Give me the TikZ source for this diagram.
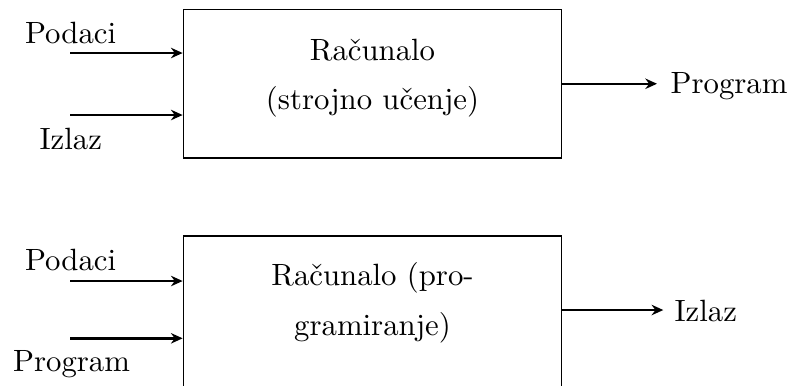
\documentclass[tikz,border=0pt]{standalone}
\usepackage{fontspec}
\usetikzlibrary{arrows.meta}
\begin{document}
\begin{tikzpicture}[x=0.325pt,y=-0.325pt,
  box/.style={draw,line width=0.4pt,rectangle,inner sep=0pt,minimum width=123pt},
  arr/.style={line width=0.8pt,-{Stealth[length=3.8pt,width=3.4pt]}},
  lbl/.style={inner sep=0pt,anchor=base west,font=\fontsize{10pt}{12pt}\selectfont},
  boxtext/.style={align=center,inner sep=0pt,font=\fontsize{10pt}{12pt}\selectfont}]
\useasboundingbox (0,0) rectangle (789,385);
% top diagram
\node[box,minimum height=48.26pt] (box1) at (372.5,83.75) {};
\node[boxtext] (txt1) at (372.5,78.5) {Računalo\\[4pt](strojno učenje)};
\coordinate (s1) at (70,53);
\coordinate (s2) at (70,115);
\coordinate (o1) at (657,83.75);
\draw[arr] (s1) -- (s1 -| box1.west);
\draw[arr] (s2) -- (s2 -| box1.west);
\draw[arr] (box1.east |- o1) -- (o1);
\node[lbl] (la1) at (24.5,43.3) {Podaci};
\node[lbl] (lb1) at (39,149.3) {Izlaz};
\node[lbl] (lo1) at (670,93.3) {Program};
% bottom diagram
\node[box,minimum height=50.7pt] (box2) at (372.5,314) {};
\node[boxtext] (txt2) at (372.5,302.9) {Računalo (pro-\\[4pt]gramiranje)};
\coordinate (s3) at (70,281);
\coordinate (s4) at (70,338.3);
\coordinate (o2) at (663.3,310);
\draw[arr] (s3) -- (s3 -| box2.west);
\draw[arr] (s4) -- (s4 -| box2.west);
\draw[arr] (box2.east |- o2) -- (o2);
\node[lbl] (la2) at (24.5,270) {Podaci};
\node[lbl] (lb2) at (12.5,371.7) {Program};
\node[lbl] (lo2) at (674,321.7) {Izlaz};
\end{tikzpicture}
\end{document}
